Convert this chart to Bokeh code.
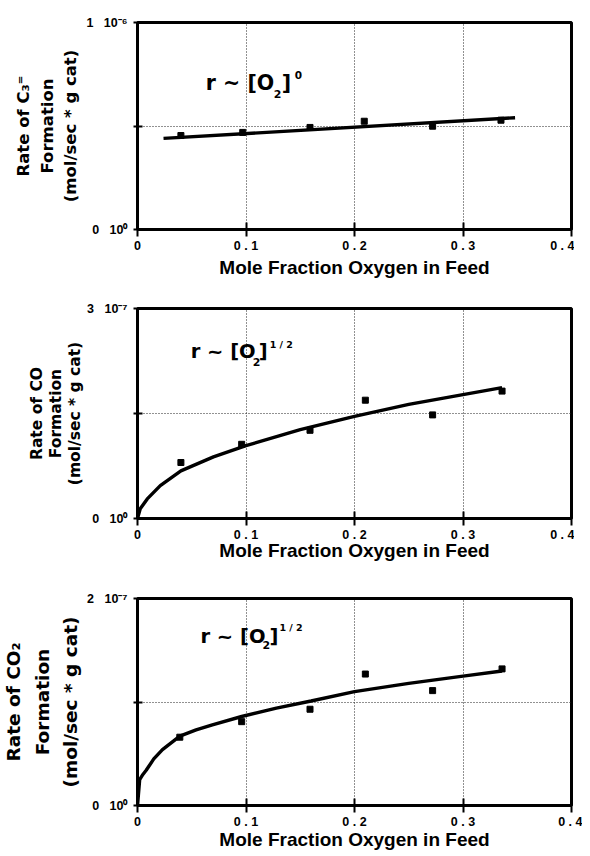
from bokeh.plotting import figure
from bokeh.models import Range1d, FixedTicker, Label
from bokeh.layouts import column
from bokeh.embed import file_html
from bokeh.resources import INLINE

# ---------------- data ----------------
x_ticks = [0, 0.1, 0.2, 0.3, 0.4]
x_tick_labels = ["0", "0 . 1", "0 . 2", "0 . 3", "0 . 4"]
x_title = "Mole Fraction Oxygen in Feed"

NB = "\u00a0"

# Panel 1: C3= formation (units of 1e-6)
c3_x = [0.040, 0.097, 0.159, 0.209, 0.272, 0.335]
c3_y = [0.454, 0.469, 0.493, 0.523, 0.499, 0.528]
c3_fit_x = [0.024, 0.348]
c3_fit_y = [0.440, 0.540]
c3_ymax = 1.0
c3_yticks = [0, 0.5, 1.0]
c3_ylabels = ["0" + NB * 3 + "10\u2070", "", "1" + NB * 3 + "10\u207b\u2076"]
c3_title = "Rate of C\u2083\u207c\nFormation\n(mol/sec * g cat)"

# Panel 2: CO formation (units of 1e-7)
co_x = [0.040, 0.096, 0.159, 0.210, 0.272, 0.336]
co_y = [0.80, 1.06, 1.26, 1.69, 1.48, 1.82]
co_fit_x = [0, 0.0025, 0.009, 0.021, 0.04, 0.07, 0.1, 0.15, 0.2, 0.25, 0.3, 0.336]
co_fit_y = [0, 0.14, 0.28, 0.47, 0.68, 0.88, 1.04, 1.27, 1.46, 1.63, 1.77, 1.87]
co_ymax = 3.0
co_yticks = [0, 1.5, 3.0]
co_ylabels = ["0" + NB * 3 + "10\u2070", "", "3" + NB * 3 + "10\u207b\u2077"]
co_title = "Rate of CO\nFormation\n(mol/sec * g cat)"

# Panel 3: CO2 formation (units of 1e-7)
co2_x = [0.039, 0.096, 0.159, 0.210, 0.272, 0.336]
co2_y = [0.66, 0.81, 0.93, 1.27, 1.11, 1.32]
co2_fit_x = [0, 0.002, 0.005, 0.008, 0.015, 0.023, 0.039, 0.054, 0.069, 0.096,
             0.128, 0.16, 0.2, 0.25, 0.3, 0.336]
co2_fit_y = [0, 0.25, 0.30, 0.34, 0.45, 0.54, 0.67, 0.73, 0.78, 0.86,
             0.94, 1.01, 1.10, 1.18, 1.25, 1.30]
co2_ymax = 2.0
co2_yticks = [0, 1.0, 2.0]
co2_ylabels = ["0" + NB * 3 + "10\u2070", "", "2" + NB * 3 + "10\u207b\u2077"]
co2_title = "Rate of CO\u2082\nFormation\n(mol/sec * g cat)"

ann_parts = ["r ~ [O", "2", "]"]
ann_sup = ["0", "1 / 2", "1 / 2"]

FONT = "Liberation Sans"
AFONT = "DejaVu Sans"

LEFT, RIGHT, FW = 129, 11, 434


def panel(xs, ys, fx, fy, ymax, yticks, ylabels, ytitle, sup,
          ann_x, ann_y, ann_size, offs, top, bottom, fh,
          ytitle_size, ytitle_lh, ytitle_standoff, xtitle_standoff):
    p = figure(frame_width=FW, frame_height=fh,
               x_range=Range1d(0, 0.4), y_range=Range1d(0, ymax),
               output_backend="svg", toolbar_location=None,
               min_border_left=LEFT, min_border_top=top,
               min_border_bottom=bottom, min_border_right=RIGHT,
               background_fill_color="white", border_fill_color="white")
    p.outline_line_color = "black"
    p.outline_line_width = 3
    p.outline_line_alpha = 1

    p.xaxis.ticker = FixedTicker(ticks=x_ticks)
    p.xaxis.major_label_overrides = {t: l for t, l in zip(x_ticks, x_tick_labels)}
    p.yaxis.ticker = FixedTicker(ticks=yticks)
    p.yaxis.major_label_overrides = {t: l for t, l in zip(yticks, ylabels)}

    for ax in (p.xaxis[0], p.yaxis[0]):
        ax.axis_line_width = 3
        ax.axis_line_color = "black"
        ax.major_tick_line_width = 2
        ax.major_tick_line_color = "black"
        ax.minor_tick_line_color = None
        ax.major_label_text_font = FONT
        ax.major_label_text_font_style = "bold"
        ax.major_label_text_font_size = "12.5px"
        ax.major_label_text_color = "black"
        ax.axis_label_text_font_style = "bold"
        ax.axis_label_text_color = "black"

    p.xaxis.major_tick_in = 7
    p.xaxis.major_tick_out = 7
    p.xaxis.major_label_standoff = 2
    p.xaxis.axis_label = x_title
    p.xaxis.axis_label_text_font = FONT
    p.xaxis.axis_label_text_font_size = "19px"
    p.xaxis.axis_label_standoff = xtitle_standoff

    p.yaxis.major_tick_in = 5
    p.yaxis.major_tick_out = 4
    p.yaxis.major_label_standoff = 6
    p.yaxis.axis_label = ytitle
    p.yaxis.axis_label_text_font = AFONT
    p.yaxis.axis_label_text_font_size = ytitle_size
    p.yaxis.axis_label_text_line_height = ytitle_lh
    p.yaxis.axis_label_standoff = ytitle_standoff

    p.xgrid.ticker = FixedTicker(ticks=x_ticks[1:-1])
    p.ygrid.ticker = FixedTicker(ticks=yticks[1:-1])
    for g in (p.xgrid[0], p.ygrid[0]):
        g.grid_line_color = "#222222"
        g.grid_line_width = 1
        g.grid_line_dash = "1 2"

    p.line(fx, fy, line_color="black", line_width=3.4)
    p.scatter(xs, ys, marker="square", size=6, fill_color="black",
              line_color="black")

    sub_dx, br_dx, sup_dx, sub_dy, sup_dy, sup_size = offs
    common = dict(x=ann_x, y=ann_y, text_font=AFONT, text_font_style="bold",
                  text_color="black", text_baseline="alphabetic")
    p.add_layout(Label(text=ann_parts[0], text_font_size=ann_size, **common))
    p.add_layout(Label(text=ann_parts[1], text_font_size="11px",
                       x_offset=sub_dx, y_offset=sub_dy, **common))
    p.add_layout(Label(text=ann_parts[2], text_font_size=ann_size,
                       x_offset=br_dx, **common))
    p.add_layout(Label(text=sup, text_font_size=sup_size,
                       x_offset=sup_dx, y_offset=sup_dy, **common))
    return p


p1 = panel(c3_x, c3_y, c3_fit_x, c3_fit_y, c3_ymax, c3_yticks, c3_ylabels,
           c3_title, ann_sup[0], 0.063, 0.71, "20.5px",
           (68, 76, 89, -11, 8, "10.5px"),
           top=22, bottom=60, fh=207,
           ytitle_size="16.5px", ytitle_lh=1.25, ytitle_standoff=3,
           xtitle_standoff=1)
p2 = panel(co_x, co_y, co_fit_x, co_fit_y, co_ymax, co_yticks, co_ylabels,
           co_title, ann_sup[1], 0.049, 2.39, "19.5px",
           (62, 68, 79, -11, 7, "9.5px"),
           top=19, bottom=61, fh=210,
           ytitle_size="15.5px", ytitle_lh=1.05, ytitle_standoff=0,
           xtitle_standoff=-5)
p3 = panel(co2_x, co2_y, co2_fit_x, co2_fit_y, co2_ymax, co2_yticks, co2_ylabels,
           co2_title, ann_sup[2], 0.058, 1.636, "19.5px",
           (62, 69, 79, -9, 9, "9.5px"),
           top=19, bottom=42, fh=207,
           ytitle_size="18.5px", ytitle_lh=1.35, ytitle_standoff=3,
           xtitle_standoff=-3)

layout = column(p1, p2, p3, spacing=0)

with open("out.html", "w") as f:
    f.write(file_html(layout, INLINE))
